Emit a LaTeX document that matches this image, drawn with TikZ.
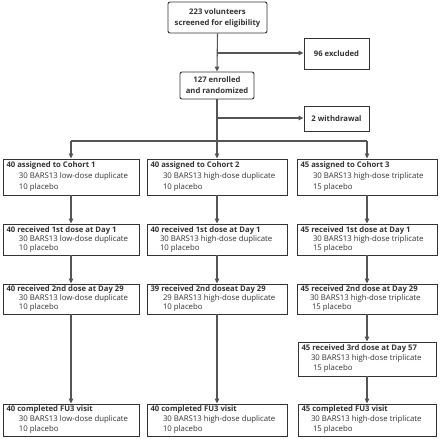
\documentclass[tikz,border=0pt]{standalone}
\usepackage{fontspec}
\setmainfont{Open Sans}
\usetikzlibrary{arrows.meta}
\definecolor{bordc}{HTML}{333333}
\definecolor{linec}{HTML}{555555}
\definecolor{txtc}{HTML}{333333}
\newcommand{\bfsz}{\fontsize{7.7}{10}\selectfont\bfseries}
\begin{document}
\begin{tikzpicture}[x=1pt,y=-1pt,
  box/.style={draw=bordc,line width=0.9pt,rectangle,inner sep=0pt,text=txtc,font=\fontsize{7.8}{10}\selectfont},
  rbox/.style={box,rounded corners=2pt,align=center,font=\fontsize{7.7}{11}\selectfont\bfseries},
  cbox/.style={box,align=left,anchor=center},
  conn/.style={draw=linec,line width=1.1pt},
  arr/.style={conn,-{Triangle[length=5pt,width=4.5pt]}}]
\useasboundingbox (0,0) rectangle (440,439);
\fill[white] (0,0) rectangle (440,439);
% top
\node[rbox,minimum width=99pt,minimum height=31pt] (scr) at (217.5,17.5) {223 volunteers\\screened for eligibility};
\node[box,minimum width=65pt,minimum height=31pt,font=\bfsz] (exc) at (336.5,53.5) {96 excluded};
\node[rbox,minimum width=74pt,minimum height=27pt] (enr) at (217,85.5) {127 enrolled\\and randomized};
\node[box,minimum width=65pt,minimum height=25pt,font=\bfsz] (wd) at (336.5,118.5) {2 withdrawal};
\coordinate (e1) at (217,53);
\coordinate (w1) at (217,118);
\coordinate (split) at (217,141);
\coordinate (sl) at (71,141);
\coordinate (sr) at (367,141);
\draw[arr] (scr.south) -- (enr.north);
\draw[arr] (e1) -- (exc.west|-e1);
\draw[conn] (enr.south) -- (split);
\draw[arr] (w1) -- (wd.west|-w1);
\draw[conn] (sl) -- (sr);
% helper macro for contents
\newcommand{\bxt}[5]{\parbox[c][#4][c]{#1}{\raggedright\fontsize{7.8}{#5}\selectfont\setlength{\parskip}{0pt}\hspace*{3.5pt}{\bfsz #2}\\#3}}
% row 1
\node[cbox] (c1a) at (71,177) {\bxt{136pt}{40 assigned to Cohort 1}{\hspace*{16pt}30 BARS13 low-dose duplicate\\\hspace*{16pt}10 placebo}{36pt}{11pt}};
\node[cbox] (c2a) at (217,177) {\bxt{140pt}{40 assigned to Cohort 2}{\hspace*{16pt}30 BARS13 high-dose duplicate\\\hspace*{16pt}10 placebo}{36pt}{11pt}};
\node[cbox] (c3a) at (367,177) {\bxt{140pt}{45 assigned to Cohort 3}{\hspace*{16pt}30 BARS13 high-dose triplicate\\\hspace*{16pt}15 placebo}{36pt}{11pt}};
% row 2
\node[cbox] (c1b) at (71,239.5) {\bxt{136pt}{40 received 1st dose at Day 1}{\hspace*{16pt}30 BARS13 low-dose duplicate\\\hspace*{16pt}10 placebo}{31pt}{9pt}};
\node[cbox] (c2b) at (217,239.5) {\bxt{140pt}{40 received 1st dose at Day 1}{\hspace*{13pt}30 BARS13 high-dose duplicate\\\hspace*{13pt}10 placebo}{31pt}{9pt}};
\node[cbox] (c3b) at (367,239.5) {\bxt{140pt}{45 received 1st dose at Day 1}{\hspace*{16pt}30 BARS13 high-dose triplicate\\\hspace*{16pt}15 placebo}{31pt}{9pt}};
% row 3
\node[cbox] (c1c) at (71,299) {\bxt{136pt}{40 received 2nd dose at Day 29}{\hspace*{16pt}30 BARS13 low-dose duplicate\\\hspace*{16pt}10 placebo}{30pt}{9pt}};
\node[cbox] (c2c) at (217,299) {\bxt{140pt}{39 received 2nd doseat Day 29}{\hspace*{16pt}29 BARS13 high-dose duplicate\\\hspace*{16pt}10 placebo}{30pt}{9pt}};
\node[cbox] (c3c) at (367,299) {\bxt{140pt}{45 received 2nd dose at Day 29}{\hspace*{13pt}30 BARS13 high-dose triplicate\\\hspace*{15pt}15 placebo}{30pt}{9pt}};
% row 4
\node[cbox] (c3d) at (367,359) {\bxt{138pt}{45 received 3rd dose at Day 57}{\hspace*{13pt}30 BARS13 high-dose triplicate\\\hspace*{15pt}15 placebo}{34pt}{10pt}};
% row 5
\node[cbox] (c1e) at (71,420) {\bxt{136pt}{40 completed FU3 visit}{\hspace*{16pt}30 BARS13 low-dose duplicate\\\hspace*{16pt}10 placebo}{32pt}{10pt}};
\node[cbox] (c2e) at (217,420) {\bxt{140pt}{40 completed FU3 visit}{\hspace*{16pt}30 BARS13 high-dose duplicate\\\hspace*{16pt}10 placebo}{32pt}{10pt}};
\node[cbox] (c3e) at (367,420) {\bxt{138pt}{45 completed FU3 visit}{\hspace*{13pt}30 BARS13 high-dose triplicate\\\hspace*{15pt}15 placebo}{32pt}{10pt}};
% arrows
\draw[arr] (sl) -- (c1a.north);
\draw[arr] (split) -- (c2a.north);
\draw[arr] (sr) -- (c3a.north);
\draw[arr] (c1a.south) -- (c1b.north);
\draw[arr] (c2a.south) -- (c2b.north);
\draw[arr] (c3a.south) -- (c3b.north);
\draw[arr] (c1b.south) -- (c1c.north);
\draw[arr] (c2b.south) -- (c2c.north);
\draw[arr] (c3b.south) -- (c3c.north);
\draw[arr] (c1c.south) -- (c1e.north);
\draw[arr] (c2c.south) -- (c2e.north);
\draw[arr] (c3c.south) -- (c3d.north);
\draw[arr] (c3d.south) -- (c3e.north);
\end{tikzpicture}
\end{document}
